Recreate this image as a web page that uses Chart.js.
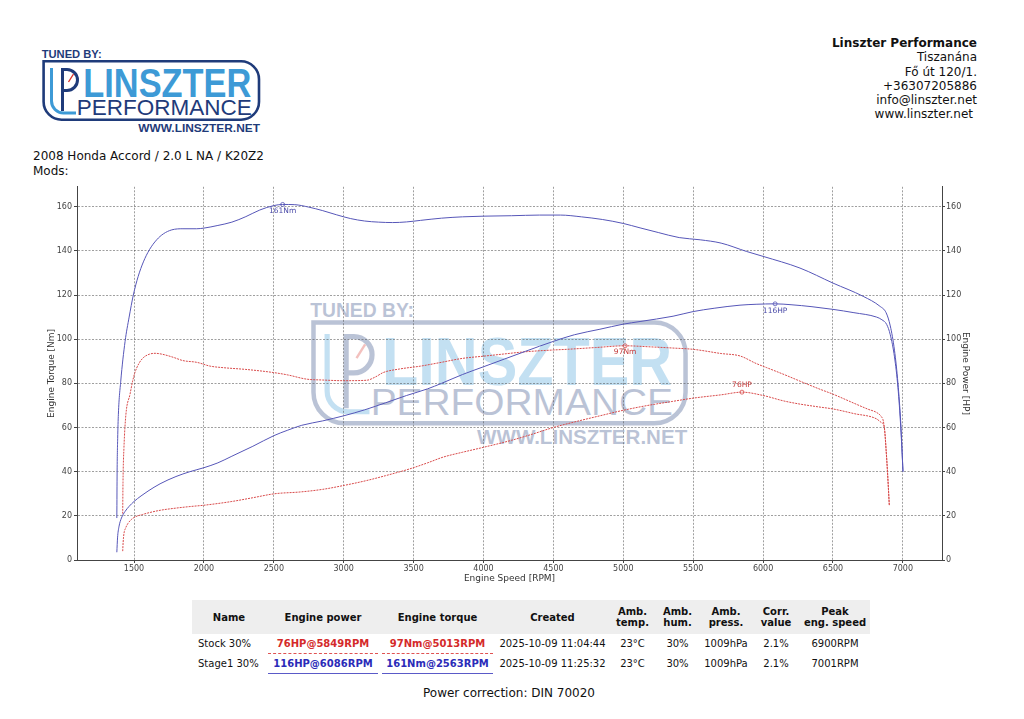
<!DOCTYPE html>
<html>
<head>
<meta charset="utf-8">
<script src="https://cdn.jsdelivr.net/npm/chart.js@4.4.1/dist/chart.umd.min.js"></script>
<style>
  html, body { margin: 0; padding: 0; background: #fff; }
  body { width: 1024px; height: 719px; position: relative; overflow: hidden; font-family: "DejaVu Sans", sans-serif; color: #111; }
  .abs { position: absolute; }
  #logo { left: 40px; top: 46px; }
  #watermark { left: 307px; top: 296px; opacity: 0.3; }
  #contact { right: 47px; top: 36px; text-align: right; font-size: 12px; line-height: 14.3px; white-space: nowrap; }
  #contact b { font-weight: bold; }
  #car { left: 33px; top: 149px; font-size: 12px; line-height: 14.5px; white-space: nowrap; }
  #chart-wrap { left: 0; top: 180px; width: 1024px; height: 420px; }
  #dyno-table { left: 192px; top: 600px; width: 678px; table-layout: fixed; border-collapse: collapse; font-size: 10px; }
  #dyno-table th { background: #eeeeee; height: 34px; padding: 0; font-weight: bold; line-height: 11px; text-align: center; }
  #dyno-table td { height: 20px; padding: 0; text-align: center; white-space: nowrap; line-height: 18px; }
  #dyno-table td.name { text-align: left; padding-left: 6px; }
  .pk { display: block; margin: 0 2px; font-weight: bold; }
  .pk.stock { color: #d42a2a; border-bottom: 1px dashed #e05252; }
  .pk.stage { color: #2b2bb8; border-bottom: 1.5px solid #5a5ac8; }
  #correction { left: 0; width: 1018px; top: 686px; text-align: center; font-size: 12px; line-height: 14.3px; }
</style>
</head>
<body>
<div id="watermark" class="abs"></div>
<div id="logo" class="abs"></div>
<div id="contact" class="abs"></div>
<div id="car" class="abs">2008 Honda Accord / 2.0 L NA / K20Z2<br>Mods:</div>
<div id="chart-wrap" class="abs"><canvas id="dyno" width="1024" height="420"></canvas></div>
<table id="dyno-table" class="abs"></table>
<div id="correction" class="abs">Power correction: DIN 70020</div>

<script>
// --- curve data ---
const stage1TorqueRpm = [1377,1379,1383,1388,1405,1436,1465,1495,1530,1567,1610,1662,1710,1770,1850,1948,2000,2100,2200,2300,2400,2500,2563,2650,2750,2850,2950,3050,3150,3250,3350,3450,3550,3700,3850,4000,4200,4400,4550,4700,4850,5000,5120,5250,5400,5550,5700,5883,6000,6264,6500,6716,6836,6880,6910,6940,6965,6985,7001];
const stage1TorqueNm = [19,40,55,66,81,99,110,120,128.5,135,140.5,145,147.7,149.5,150,150,150.3,151.5,153,155.5,158.5,160.5,161,160.9,159.8,158.2,156.3,154.6,153.5,153,152.8,153.1,153.8,154.8,155.4,155.7,155.9,156.2,156.2,155.4,154.2,152.4,150.4,148.3,146,145,143.5,139.7,137.5,132.2,125.4,119.4,114.9,112,106,95,80,62,40];

const stage1PowerRpm = [1377,1382,1392,1410,1436,1465,1500,1550,1600,1686,1800,1900,2000,2100,2200,2350,2500,2600,2700,2850,3000,3150,3300,3450,3600,3700,3850,4000,4150,4300,4500,4650,4833,5000,5120,5356,5500,5650,5835,5950,6086,6200,6350,6500,6650,6812,6850,6884,6910,6940,6965,6985,7001];
const stage1PowerHp = [3.5,10,15,19,22,24.3,26.5,29,31.2,34.5,37.8,40,41.8,44,47,51.5,56.3,58.8,61,63,65.3,68,71.2,74.5,77.5,80,84,87.5,91,94.5,99,102,104.5,106.8,108,110.4,112.5,114,115.4,115.8,116,115.6,114.7,113.5,112,110,108.8,106.7,102,92,78,60,40];

const stockTorqueRpm = [1419,1421,1428,1442,1471,1490,1507,1535,1566,1610,1650,1700,1780,1850,1950,2044,2137,2300,2496,2600,2735,2850,3000,3165,3230,3283,3400,3550,3689,3850,4000,4118,4300,4500,4595,4800,5013,5200,5350,5500,5700,5835,5950,6026,6150,6264,6400,6500,6650,6750,6812,6845,6860,6870,6880,6890,6903];
const stockTorqueNm = [21,35,51,66,75,81,85,89,91.6,93.2,93.6,93.2,91.8,90.3,89.5,87.8,87.1,86.3,84.9,83.8,81.9,81.5,81.2,81.4,83,84.9,86.5,87.8,89.4,91.3,92.3,93.1,94.3,95.1,95.4,96.2,97,96.5,96,95.4,93.5,92.4,89,87.1,84,81,77.5,75.1,71,68.3,66.8,65,63,58.6,50,40,24.8];

const stockPowerRpm = [1419,1422,1428,1440,1457,1480,1507,1560,1600,1686,1800,1900,2000,2200,2350,2506,2687,2850,3004,3165,3300,3474,3600,3712,3850,3998,4200,4350,4499,4650,4833,5000,5167,5350,5500,5700,5849,6000,6150,6264,6400,6500,6650,6812,6845,6860,6870,6880,6890,6903];
const stockPowerHp = [4,8,12,14.5,16.6,18.3,19.5,20.6,21.3,22.5,23.5,24.2,24.8,26.5,28.2,30,30.8,32,33.8,36,38.2,41.3,44,46.6,48.8,51,54.2,57,60,62.5,65.3,67.8,69.9,71.8,73.3,74.8,76,74.5,72,70.6,69.3,68.4,66.3,63.9,62.3,61.6,58.6,50,40,24.8];

// peak markers: stage1 torque, stage1 power, stock torque, stock power
const peakRpm = [2563, 6086, 5013, 5849];
const peakValue = [161, 116, 97, 76];
const peakLabels = ["161Nm", "116HP", "97Nm", "76HP"];

const rpmTicks = [1500, 2000, 2500, 3000, 3500, 4000, 4500, 5000, 5500, 6000, 6500, 7000];
const valueTicks = [0, 20, 40, 60, 80, 100, 120, 140, 160];

// --- header / table text ---
const contactLines = ["Tiszanána", "Fő út 120/1.", "+36307205886", "info@linszter.net", "www.linszter.net"];
const tableHeaders = ["Name", "Engine power", "Engine torque", "Created", "Amb.<br>temp.", "Amb.<br>hum.", "Amb.<br>press.", "Corr.<br>value", "Peak<br>eng. speed"];
const colWidths = [74, 114, 115, 115, 45, 45, 52, 48, 70];
const runNames = ["Stock 30%", "Stage1 30%"];
const runPower = ["76HP@5849RPM", "116HP@6086RPM"];
const runTorque = ["97Nm@5013RPM", "161Nm@2563RPM"];
const runCreated = ["2025-10-09 11:04:44", "2025-10-09 11:25:32"];
const runTemp = ["23°C", "23°C"];
const runHum = ["30%", "30%"];
const runPress = ["1009hPa", "1009hPa"];
const runCorr = ["2.1%", "2.1%"];
const runPeakSpeed = ["6900RPM", "7001RPM"];

const BLUE = "#5656b8";
const RED = "#d84a4a";
const NAVY = "#1f3b7a";
const SKY = "#3d9ad6";

function logoSvg(w, h) {
  return `<svg width="${w}" height="${h}" viewBox="0 0 222 88" xmlns="http://www.w3.org/2000/svg">
    <text x="1.7" y="12.3" font-family="Liberation Sans" font-weight="bold" font-size="11.5" fill="${NAVY}" textLength="60" lengthAdjust="spacingAndGlyphs">TUNED BY:</text>
    <path d="M3.6 15.3 H201 A18 18 0 0 1 219 33.3 V55.7 A18 18 0 0 1 201 73.7 H21.6 A18 18 0 0 1 3.6 55.7 Z" fill="none" stroke="${NAVY}" stroke-width="2.6"/>
    <path d="M11.5 22 V55 A12 12 0 0 0 23.5 67 H36" fill="none" stroke="${SKY}" stroke-width="3"/>
    <path d="M22.5 65 V23.5 H27 A10.5 10.5 0 0 1 27 44.5 H24" fill="none" stroke="${NAVY}" stroke-width="3"/>
    <path d="M28.5 36 L33.5 28" stroke="#d8332a" stroke-width="1.4"/>
    <text x="43.3" y="51.3" font-family="Liberation Sans" font-weight="bold" font-size="40" fill="${SKY}" textLength="168" lengthAdjust="spacingAndGlyphs">LINSZTER</text>
    <text x="36.7" y="69" font-family="Liberation Sans" font-size="21.8" fill="${NAVY}" textLength="175" lengthAdjust="spacingAndGlyphs">PERFORMANCE</text>
    <text x="98.3" y="85.7" font-family="Liberation Sans" font-weight="bold" font-size="11.5" fill="${NAVY}" textLength="121.7" lengthAdjust="spacingAndGlyphs">WWW.LINSZTER.NET</text>
  </svg>`;
}

document.getElementById("logo").innerHTML = logoSvg(222, 88);
document.getElementById("watermark").innerHTML = logoSvg(384, 152);
document.getElementById("contact").innerHTML =
  `<b>Linszter Performance</b><br>` +
  contactLines.map((l, i) => i === contactLines.length - 1 ? `<span style="padding-right:4px">${l}</span>` : l).join("<br>");

function buildTable() {
  const cols = colWidths.map(w => `<col style="width:${w}px">`).join("");
  const head = `<tr>${tableHeaders.map(h => `<th>${h}</th>`).join("")}</tr>`;
  const rows = runNames.map((name, i) => {
    const cls = i === 0 ? "stock" : "stage";
    return `<tr>
      <td class="name">${name}</td>
      <td><span class="pk ${cls}">${runPower[i]}</span></td>
      <td><span class="pk ${cls}">${runTorque[i]}</span></td>
      <td>${runCreated[i]}</td><td>${runTemp[i]}</td><td>${runHum[i]}</td>
      <td>${runPress[i]}</td><td>${runCorr[i]}</td><td>${runPeakSpeed[i]}</td>
    </tr>`;
  }).join("");
  document.getElementById("dyno-table").innerHTML = `<colgroup>${cols}</colgroup><thead>${head}</thead><tbody>${rows}</tbody>`;
}
buildTable();

function pairs(xs, ys) {
  return xs.map((x, i) => ({ x, y: ys[i] }));
}

const peakColors = [BLUE, BLUE, RED, RED];
const peakAbove = [false, false, false, true];

const peakLabelPlugin = {
  id: "peakLabels",
  afterDatasetsDraw(chart) {
    const { ctx, scales: { x, y } } = chart;
    ctx.save();
    ctx.font = "7.5px 'DejaVu Sans'";
    ctx.textAlign = "center";
    peakRpm.forEach((rpm, i) => {
      const px = x.getPixelForValue(rpm);
      const py = y.getPixelForValue(peakValue[i]);
      ctx.fillStyle = peakColors[i] === BLUE ? "#4a4aa8" : "#c43a3a";
      ctx.textBaseline = peakAbove[i] ? "bottom" : "top";
      ctx.fillText(peakLabels[i], px, peakAbove[i] ? py - 3 : py + 3);
    });
    ctx.restore();
  }
};

const lineBase = { borderWidth: 1, pointRadius: 0, fill: false, cubicInterpolationMode: "monotone" };

const axisFont = { family: "DejaVu Sans", size: 8 };
const titleFont = { family: "DejaVu Sans", size: 9 };
const gridCommon = { color: "rgba(80,80,80,0.55)", tickLength: 3, tickColor: "#444", tickBorderDash: [] };
const borderCommon = { display: true, color: "#444", width: 1, dash: [2, 1.5] };
const plainLabel = v => String(v);

new Chart(document.getElementById("dyno"), {
  type: "line",
  data: {
    datasets: [
      { ...lineBase, label: "Stage1 torque", data: pairs(stage1TorqueRpm, stage1TorqueNm), borderColor: BLUE, yAxisID: "y" },
      { ...lineBase, label: "Stage1 power", data: pairs(stage1PowerRpm, stage1PowerHp), borderColor: BLUE, yAxisID: "y1" },
      { ...lineBase, label: "Stock torque", data: pairs(stockTorqueRpm, stockTorqueNm), borderColor: RED, borderDash: [2, 1], yAxisID: "y" },
      { ...lineBase, label: "Stock power", data: pairs(stockPowerRpm, stockPowerHp), borderColor: RED, borderDash: [2, 1], yAxisID: "y1" },
      {
        label: "Peaks", showLine: false, yAxisID: "y",
        data: pairs(peakRpm, peakValue),
        pointRadius: 2, pointBorderWidth: 0.8, pointBackgroundColor: "rgba(255,255,255,0)",
        pointBorderColor: peakColors
      }
    ]
  },
  options: {
    responsive: false,
    animation: false,
    events: [],
    layout: { padding: { left: 42, right: 49, top: 5, bottom: 12 } },
    plugins: { legend: { display: false }, tooltip: { enabled: false } },
    scales: {
      x: {
        type: "linear", min: 1092, max: 7280,
        afterBuildTicks: s => { s.ticks = rpmTicks.map(v => ({ value: v })); },
        afterFit: s => { s.height = 28; },
        ticks: { font: axisFont, color: "#444", padding: 1, maxRotation: 0, callback: plainLabel },
        grid: { ...gridCommon },
        border: { ...borderCommon },
        title: { display: true, text: "Engine Speed [RPM]", font: titleFont, color: "#333" }
      },
      y: {
        type: "linear", position: "left", min: 0, max: 169,
        afterBuildTicks: s => { s.ticks = valueTicks.map(v => ({ value: v })); },
        afterFit: s => { s.width = 35; },
        ticks: { font: axisFont, color: "#444", padding: 2, callback: plainLabel },
        grid: { ...gridCommon },
        border: { ...borderCommon },
        title: { display: true, text: "Engine Torque [Nm]", font: titleFont, color: "#333" }
      },
      y1: {
        type: "linear", position: "right", min: 0, max: 169,
        afterBuildTicks: s => { s.ticks = valueTicks.map(v => ({ value: v })); },
        afterFit: s => { s.width = 33; },
        ticks: { font: axisFont, color: "#444", padding: 1, callback: plainLabel },
        grid: { ...gridCommon, drawOnChartArea: false },
        border: { ...borderCommon },
        title: { display: true, text: "Engine Power [HP]", font: titleFont, color: "#333" }
      }
    }
  },
  plugins: [peakLabelPlugin]
});
</script>
</body>
</html>
